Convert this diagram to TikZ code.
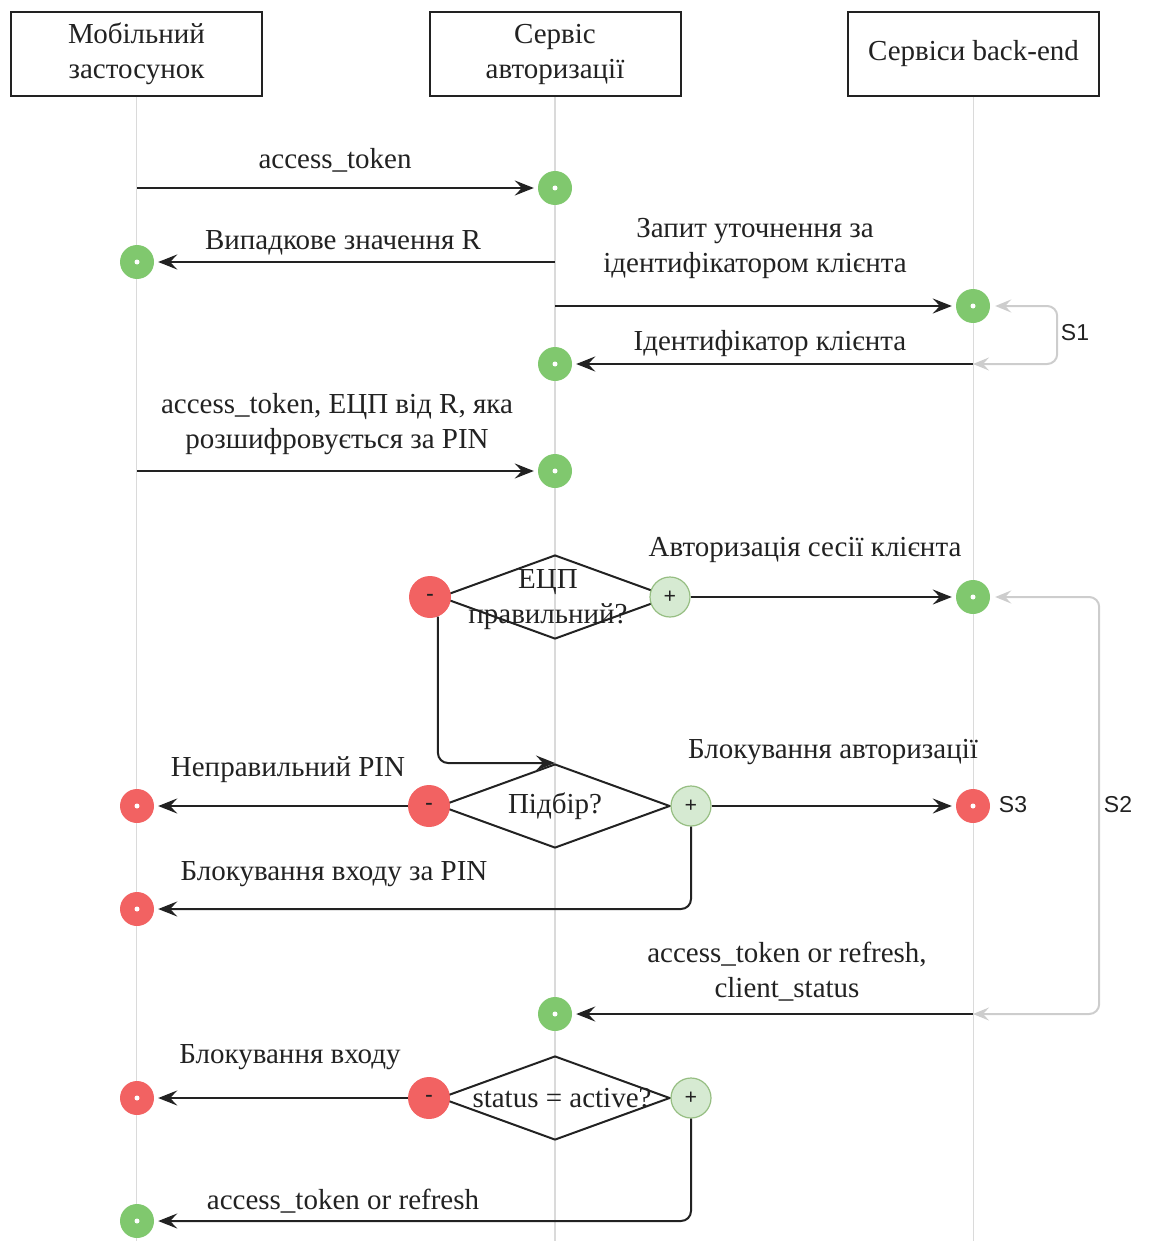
\documentclass[tikz,border=0pt]{standalone}
\usepackage{fontspec}
\setmainfont{Liberation Serif}
\setsansfont{Liberation Sans}
\usepackage{xcolor}
\usepackage{tikz}
\usetikzlibrary{positioning}
\usetikzlibrary{arrows.meta}
\usetikzlibrary{shapes.geometric}
\usetikzlibrary{calc}

\definecolor{okgreen}{RGB}{128,200,110}
\definecolor{badred}{RGB}{242,98,98}
\definecolor{palegreen}{RGB}{214,234,210}
\definecolor{paleedge}{RGB}{150,190,130}
\definecolor{loopgray}{RGB}{205,205,205}
\definecolor{lifegray}{RGB}{218,218,218}
\definecolor{inkgray}{RGB}{34,34,34}

\begin{document}
\begin{tikzpicture}[
    x=1pt, y=-1pt,
    font=\fontsize{29}{35}\selectfont,
    text=inkgray,
    actor/.style={
        draw=inkgray,
        line width=2pt,
        fill=white,
        minimum width=251pt,
        minimum height=84pt,
        align=center
    },
    life/.style={
        draw=lifegray,
        line width=1.5pt
    },
    dot/.style={
        circle,
        minimum size=34pt,
        inner sep=0pt,
        path picture={\fill[white] (path picture bounding box.center) circle (2.5pt);}
    },
    okdot/.style={dot, fill=okgreen},
    baddot/.style={dot, fill=badred},
    yes/.style={
        circle,
        draw=paleedge,
        line width=1.2pt,
        fill=palegreen,
        minimum size=40pt,
        inner sep=0pt,
        font=\fontsize{22}{22}\selectfont\bfseries
    },
    no/.style={
        circle,
        fill=badred,
        minimum size=42pt,
        inner sep=0pt,
        font=\fontsize{22}{22}\selectfont\bfseries
    },
    choice/.style={
        diamond,
        draw=inkgray,
        line width=2pt,
        minimum width=230pt,
        minimum height=84pt,
        inner sep=0pt
    },
    msg/.style={
        draw=inkgray,
        line width=2pt,
        -{Stealth[length=19pt,width=15pt,inset=7pt]},
        shorten >=4pt
    },
    loopback/.style={
        draw=loopgray,
        line width=2pt,
        rounded corners=10pt,
        {Stealth[length=16pt,width=13pt,inset=6pt]}-{Stealth[length=16pt,width=13pt,inset=6pt]},
        shorten <=5pt
    },
    tag/.style={font=\sffamily\fontsize{23}{23}\selectfont}
]
\useasboundingbox (0,0) rectangle (1149,1241);

% --- Actors
\node[actor] (mob) at (136.5,54) {Мобільний\\застосунок};
\node[actor] (auth) at (555,54) {Сервіс\\авторизації};
\node[actor] (back) at (973.5,54) {Сервіси back-end};

% --- Lifelines
\draw[life] (mob.south) -- (mob.south |- 0,1241);
\draw[life] (auth.south) -- (auth.south |- 0,1241);
\draw[life] (back.south) -- (back.south |- 0,1241);

% --- Free ends on lifelines
\coordinate (m1) at (137,188);
\coordinate (a2) at (555,262);
\coordinate (a3) at (555,306);
\coordinate (b4) at (973,364);
\coordinate (m5) at (137,471);
\coordinate (b10) at (973,1014);

% --- Points of activity
\node[okdot] (a1) at (555,188) {};
\node[okdot] (m2) at (137,262) {};
\node[okdot] (b3) at (973,306) {};
\node[okdot] (a4) at (555,364) {};
\node[okdot] (a5) at (555,471) {};
\node[okdot] (b6) at (973,597) {};
\node[baddot] (m7) at (137,806) {};
\node[baddot] (b7) at (973,806) {};
\node[baddot] (m8) at (137,909) {};
\node[okdot] (a10) at (555,1014) {};
\node[baddot] (m11) at (137,1098) {};
\node[okdot] (m12) at (137,1221) {};

% --- Checks
\node[choice] (sigok) at (555,597) {};
\node at (548,582) (sigtxt) {ЕЦП};
\node at (548,617) (sigtxt2) {правильний?};
\node[no] (signo) at (430,597) {-};
\node[yes] (sigyes) at (670,597) {+};

\node[choice] (guess) at (555,806) {};
\node (guesstxt) at (555,806) {Підбір?};
\node[no] (guessno) at (429,806) {-};
\node[yes] (guessyes) at (691,806) {+};

\node[choice] (state) at (555,1098) {};
\node (statetxt) at (562,1098) {status = active?};
\node[no] (stateno) at (429,1098) {-};
\node[yes] (stateyes) at (691,1098) {+};

% --- Messages
\draw[msg] (m1) -- (a1);
\node (tok) at (335,160) {access\_token};

\draw[msg] (a2) -- (m2);
\node (rnd) at (343,243) {Випадкове значення R};

\draw[msg] (a3) -- (b3);
\node[align=center] (ask) at (755,248) {Запит уточнення за\\ідентифікатором клієнта};

\draw[msg] (b4) -- (a4);
\node (idl) at (770,344) {Ідентифікатор клієнта};

\draw[msg] (m5) -- (a5);
\node[align=center] (sig) at (337,424) {access\_token, ЕЦП від R, яка\\розшифровується за PIN};

\draw[msg] (sigyes) -- (b6);
\node (ses) at (805,550) {Авторизація сесії клієнта};

\draw[msg, rounded corners=10pt, shorten >=0pt] (signo.-68) |- (guess.north);

\draw[msg] (guessno) -- (m7);
\node (pin) at (288,770) {Неправильний PIN};

\draw[msg] (guessyes) -- (b7);
\node (blk) at (833,752) {Блокування авторизації};

\draw[msg, rounded corners=10pt] (guessyes.south) |- (m8);
\node (bpn) at (334,874) {Блокування входу за PIN};

\draw[msg] (b10) -- (a10);
\node[align=center] (ref) at (787,972) {access\_token or refresh,\\client\_status};

\draw[msg] (stateno) -- (m11);
\node (bin) at (290,1057) {Блокування входу};

\draw[msg, rounded corners=10pt] (stateyes.south) |- (m12);
\node (acc) at (343,1201) {access\_token or refresh};

% --- Loops
\draw[loopback] (b3.east) -- ++(67,0) |- (b4);
\node[tag] (s1) at (1075,333) {S1};
\draw[loopback] (b6.east) -- ++(109,0) |- (b10);
\node[tag] (s2) at (1118,805) {S2};
\node[tag] (s3) at (1013,805) {S3};

\end{tikzpicture}
\end{document}
